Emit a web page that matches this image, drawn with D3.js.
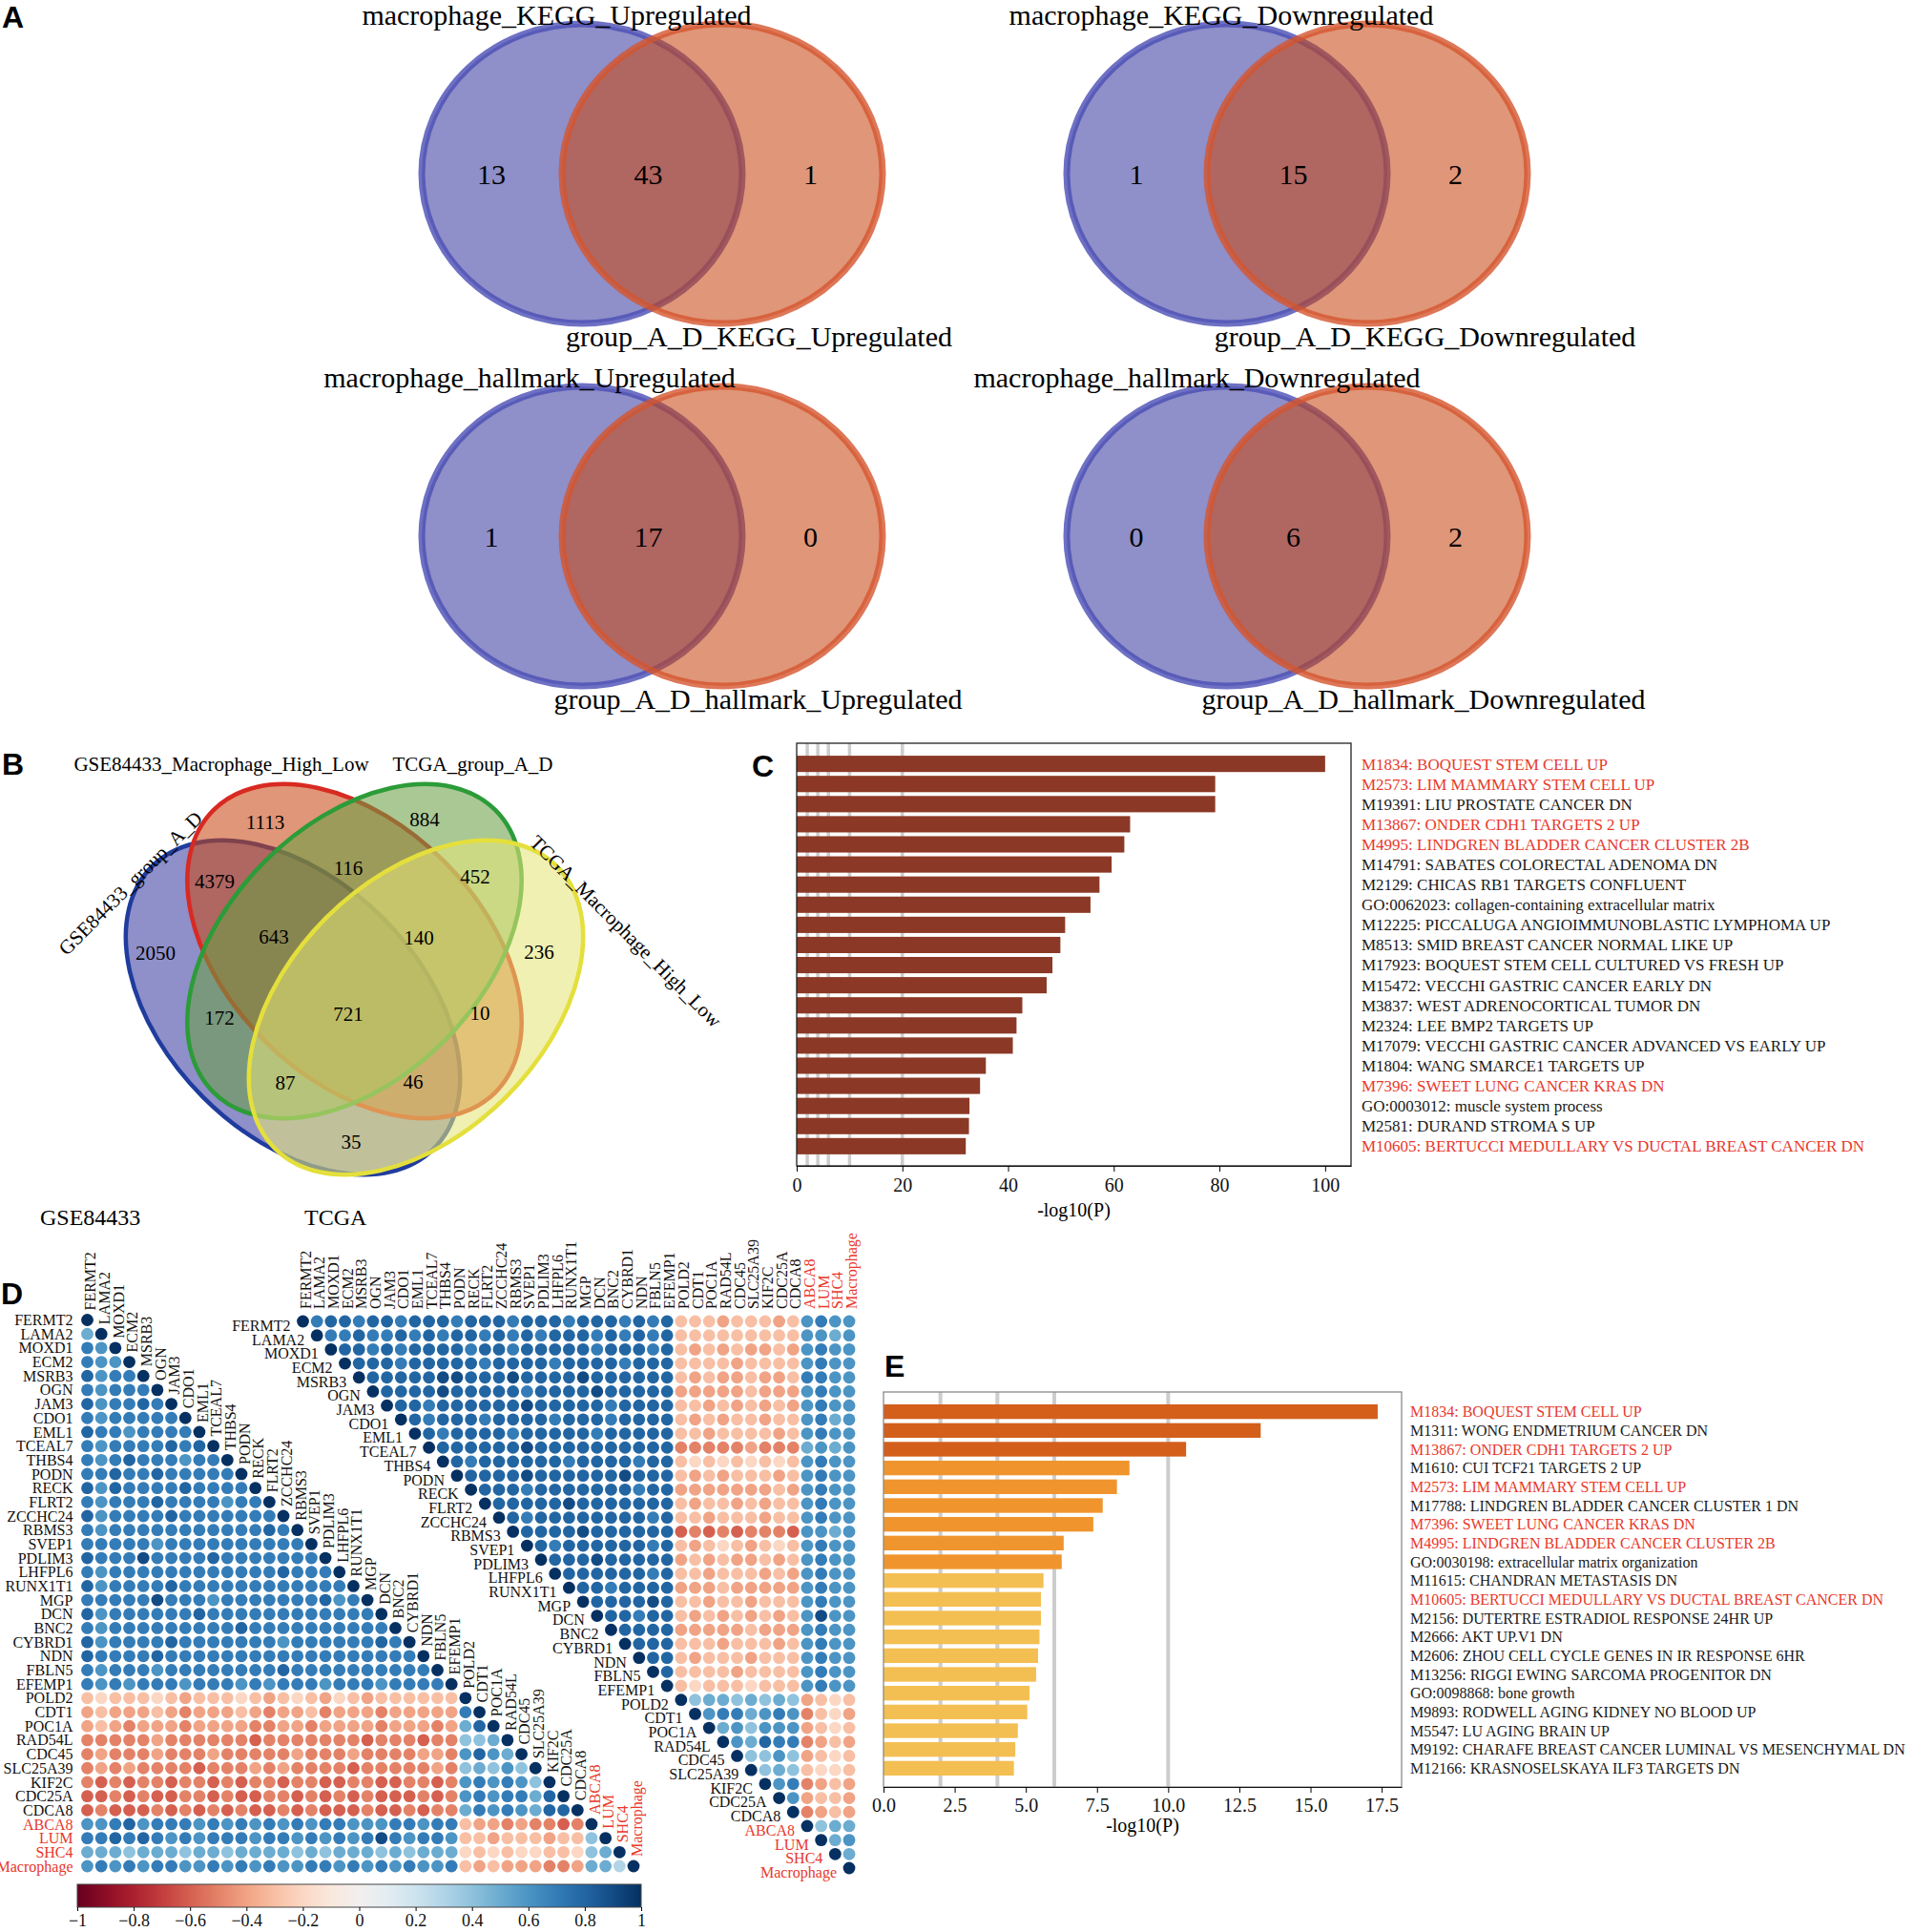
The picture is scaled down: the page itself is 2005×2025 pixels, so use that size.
<!DOCTYPE html>
<html>
<head>
<meta charset="utf-8">
<script src="https://cdn.jsdelivr.net/npm/d3@7"></script>
<style>
  body { margin: 0; background: white; }
  svg { display: block; }
</style>
</head>
<body>
<div id="vis"></div>
<script>
let W = 2005, H = 2025
let serif = "'Liberation Serif', 'Times New Roman', serif"
let sans = "'Liberation Sans', Arial, sans-serif"
let red = '#e8382b'

// ---------- data ----------
// A: two-set venns
let vennTop = ['macrophage_KEGG_Upregulated', 'macrophage_KEGG_Downregulated', 'macrophage_hallmark_Upregulated', 'macrophage_hallmark_Downregulated']
let vennBottom = ['group_A_D_KEGG_Upregulated', 'group_A_D_KEGG_Downregulated', 'group_A_D_hallmark_Upregulated', 'group_A_D_hallmark_Downregulated']
let vennCounts = [[13, 43, 1], [1, 15, 2], [1, 17, 0], [0, 6, 2]]

// B: four-set venn
let quadSets = ['GSE84433_group_A_D', 'GSE84433_Macrophage_High_Low', 'TCGA_group_A_D', 'TCGA_Macrophage_High_Low']
let quadRegions = ['A', 'B', 'C', 'D', 'AB', 'BC', 'CD', 'ABC', 'BCD', 'AC', 'ABCD', 'BD', 'ACD', 'ABD', 'AD']
let quadCounts = [2050, 1113, 884, 236, 4379, 116, 452, 643, 140, 172, 721, 10, 87, 46, 35]

// C: enrichment
let cTerms = ['M1834: BOQUEST STEM CELL UP', 'M2573: LIM MAMMARY STEM CELL UP', 'M19391: LIU PROSTATE CANCER DN',
  'M13867: ONDER CDH1 TARGETS 2 UP', 'M4995: LINDGREN BLADDER CANCER CLUSTER 2B', 'M14791: SABATES COLORECTAL ADENOMA DN',
  'M2129: CHICAS RB1 TARGETS CONFLUENT', 'GO:0062023: collagen-containing extracellular matrix',
  'M12225: PICCALUGA ANGIOIMMUNOBLASTIC LYMPHOMA UP', 'M8513: SMID BREAST CANCER NORMAL LIKE UP',
  'M17923: BOQUEST STEM CELL CULTURED VS FRESH UP', 'M15472: VECCHI GASTRIC CANCER EARLY DN',
  'M3837: WEST ADRENOCORTICAL TUMOR DN', 'M2324: LEE BMP2 TARGETS UP', 'M17079: VECCHI GASTRIC CANCER ADVANCED VS EARLY UP',
  'M1804: WANG SMARCE1 TARGETS UP', 'M7396: SWEET LUNG CANCER KRAS DN', 'GO:0003012: muscle system process',
  'M2581: DURAND STROMA S UP', 'M10605: BERTUCCI MEDULLARY VS DUCTAL BREAST CANCER DN']
let cValues = [100.0, 79.2, 79.2, 63.1, 62.0, 59.6, 57.3, 55.6, 50.8, 49.9, 48.4, 47.3, 42.7, 41.6, 40.9, 35.8, 34.7, 32.7, 32.6, 32.0]
let cTicks = [0, 20, 40, 60, 80, 100]
let cGrid = [2, 4, 6, 10, 20]

// E: enrichment
let eTerms = ['M1834: BOQUEST STEM CELL UP', 'M1311: WONG ENDMETRIUM CANCER DN', 'M13867: ONDER CDH1 TARGETS 2 UP',
  'M1610: CUI TCF21 TARGETS 2 UP', 'M2573: LIM MAMMARY STEM CELL UP', 'M17788: LINDGREN BLADDER CANCER CLUSTER 1 DN',
  'M7396: SWEET LUNG CANCER KRAS DN', 'M4995: LINDGREN BLADDER CANCER CLUSTER 2B', 'GO:0030198: extracellular matrix organization',
  'M11615: CHANDRAN METASTASIS DN', 'M10605: BERTUCCI MEDULLARY VS DUCTAL BREAST CANCER DN', 'M2156: DUTERTRE ESTRADIOL RESPONSE 24HR UP',
  'M2666: AKT UP.V1 DN', 'M2606: ZHOU CELL CYCLE GENES IN IR RESPONSE 6HR', 'M13256: RIGGI EWING SARCOMA PROGENITOR DN',
  'GO:0098868: bone growth', 'M9893: RODWELL AGING KIDNEY NO BLOOD UP', 'M5547: LU AGING BRAIN UP',
  'M9192: CHARAFE BREAST CANCER LUMINAL VS MESENCHYMAL DN', 'M12166: KRASNOSELSKAYA ILF3 TARGETS DN']
let eValues = [17.36, 13.25, 10.63, 8.64, 8.20, 7.70, 7.37, 6.33, 6.26, 5.62, 5.53, 5.53, 5.48, 5.43, 5.36, 5.13, 5.05, 4.72, 4.63, 4.58]
let eTicks = [0, 2.5, 5, 7.5, 10, 12.5, 15, 17.5]
let eGrid = [2, 4, 6, 10]
let sharedIds = ['M1834', 'M2573', 'M13867', 'M4995', 'M7396', 'M10605']

// D: correlation matrices. one char per cell: 0-9 -> +0.0..+0.9, X -> 1, a-i -> -0.1..-0.9
let genes = ['FERMT2', 'LAMA2', 'MOXD1', 'ECM2', 'MSRB3', 'OGN', 'JAM3', 'CDO1', 'EML1', 'TCEAL7', 'THBS4', 'PODN',
  'RECK', 'FLRT2', 'ZCCHC24', 'RBMS3', 'SVEP1', 'PDLIM3', 'LHFPL6', 'RUNX1T1', 'MGP', 'DCN', 'BNC2', 'CYBRD1', 'NDN',
  'FBLN5', 'EFEMP1', 'POLD2', 'CDT1', 'POC1A', 'RAD54L', 'CDC45', 'SLC25A39', 'KIF2C', 'CDC25A', 'CDCA8',
  'ABCA8', 'LUM', 'SHC4', 'Macrophage']
let redGenes = ['ABCA8', 'LUM', 'SHC4', 'Macrophage']
// GSE84433, lower triangle, row i = columns 0..i
let gseRows = [
  'X', '5X', '76X', '766X', '8677X', '76777X', '867787X', '7677777X', '87767777X', '767777878X',
  '7678777677X', '77877877777X', '868777787777X', '7677787777677X', '86777787777777X', '767777777777787X',
  '7777767777777777X', '87779777787777777X', '767777777777778777X', '8677778777777777777X',
  '77777977767777777867X', '867777778777777777777X', '7677777777787777777777X', '86777787777777677777787X',
  '877778777777777777777777X', '7677767777777787777777777X', '76767776777676777677767777X',
  'cbcccbcdcccbcdcbcdbcdcccccc' + 'X',
  'dcdddcdedddcdeddcedddeddddd' + '7' + 'X',
  'dcdedddeddddeeddeddddeddded' + '58' + 'X',
  'eeeeedeeeeeefeeeeeeefeeefee' + '445' + 'X',
  'edeeedeeedeeeeedeeedeeeedde' + '6865' + 'X',
  'ededeeeefeeededeeeefeeeeede' + '45464' + 'X',
  'efefeefeefefeefeeffeeffeefe' + '676764' + 'X',
  'ffefeffeefeffeefefefefffefe' + '6767758' + 'X',
  'fefffefefefeffefefffeffefee' + '57676588' + 'X',
  '667867776767676767766677677' + 'cddedeefe' + 'X',
  '778787676777677676767' + '9' + '76776' + 'ccdcccdcc' + '4' + 'X',
  '555455545545555454555454555' + 'bcbcbbccb' + '45' + 'X',
  '676767766767676677676767667' + 'cdcdddeed' + '553' + 'X'
]
// TCGA, upper triangle, row i = columns i..39
let tcgaRows = [
  'X' + '78878878887888788878887878' + 'cccdcccdc' + '6766',
  'X' + '7787787878878787888787878' + 'ccccccccc' + '6656',
  'X' + '887878888788788888788878' + 'cdcdcddcd' + '6766',
  'X' + '88878888878888788887888' + 'ccccdcccc' + '6766',
  'X' + '8888899888988889888888' + 'cdcddcddc' + '7766',
  'X' + '888898888878888988888' + 'dddddcddd' + '6766',
  'X' + '88788888898888878888' + 'ccdcdcdcd' + '6766',
  'X' + '8788878888788878888' + 'cdcdccdcc' + '6756',
  'X' + '878888788888788888' + 'ccdccccdc' + '6766',
  'X' + '88888898888888888' + 'eeeeedeee' + '5656',
  'X' + '8788888878888788' + 'cbcbcbcbc' + '6766',
  'X' + '888898888889888' + 'cdcdcccdc' + '6766',
  'X' + '88878888888788' + 'dddddddcd' + '6766',
  'X' + '8888898888888' + 'cdccdcdcc' + '6766',
  'X' + '878888888878' + 'ccdcccdcc' + '6766',
  'X' + '88889888888' + 'fefefeeef' + '6656',
  'X' + '8788888878' + 'cdcbcdcbc' + '6766',
  'X' + '888988888' + 'dcdcddcdc' + '6766',
  'X' + '88888878' + 'ccdcccdcd' + '6766',
  'X' + '8878888' + 'dddcddddd' + '6766',
  'X' + '888898' + 'ccdccdccc' + '6766',
  'X' + '88788' + 'cdcdcdcdc' + '6966',
  'X' + '8888' + 'dddddcddd' + '6766',
  'X' + '888' + 'cccdcccdc' + '6766',
  'X' + '88' + 'cdcccdccc' + '6766',
  'X' + '8' + 'ccccdcccc' + '6766',
  'X' + 'cbcccbccc' + '6766',
  'X' + '45545454' + 'dcbc',
  'X' + '6775676' + 'ecbd',
  'X' + '564666' + 'dcbc',
  'X' + '65877' + 'edcd',
  'X' + '4464' + 'dcbc',
  'X' + '454' + 'cbbc',
  'X' + '67' + 'edcd',
  'X' + '6' + 'dccd',
  'X' + 'edcd',
  'X455', 'X56', 'X5', 'X'
]
let cbTicks = d3.ticks(-1, 1, 10)

// ---------- svg ----------
let svg = d3.select('#vis').append('svg')
  .attr('width', W).attr('height', H)
  .style('background-color', 'white')
  .style('font-family', serif)

// panel letters
let letters = [['A', 2, 29], ['B', 2, 812], ['C', 788, 814], ['D', 1, 1367], ['E', 927, 1443]]
svg.selectAll('text.letter').data(letters).join('text')
  .attr('class', 'letter')
  .attr('x', d => d[1]).attr('y', d => d[2])
  .style('font-family', sans).style('font-weight', 'bold').style('font-size', '32px')
  .text(d => d[0])

// ---------- A ----------
let vennPos = [{cx: 683.5, cy: 182}, {cx: 1359.5, cy: 182}, {cx: 683.5, cy: 562}, {cx: 1359.5, cy: 562}]
let topShift = [-100, -79.5, -128.5, -105]
let botShift = [112, 134, 111, 132.5]
let pairFill = ['#3a3aa0', '#c84712']
let pairStroke = ['#4a4eb4', '#d4552e']
let vx = d3.scaleLinear().domain([-1, 1]).range([-73.5, 73.5])
let labelX = d3.scaleLinear().domain([0, 1, 2]).range([-168.5, -4, 166])

vennPos.forEach((v, i) => {
  let g = svg.append('g').attr('transform', `translate(${v.cx},${v.cy})`)
  g.selectAll('ellipse').data([-1, 1]).join('ellipse')
    .attr('cx', d => vx(d)).attr('cy', 0)
    .attr('rx', 168).attr('ry', 157)
    .attr('fill', (d, k) => pairFill[k]).attr('fill-opacity', 0.57)
    .attr('stroke', (d, k) => pairStroke[k]).attr('stroke-opacity', 0.8).attr('stroke-width', 7)
  g.selectAll('text.cnt').data(vennCounts[i]).join('text')
    .attr('class', 'cnt')
    .attr('x', (d, k) => labelX(k)).attr('y', 0).attr('dy', '0.35em')
    .attr('text-anchor', 'middle').style('font-size', '30px')
    .text(d => d)
  g.append('text').attr('x', topShift[i]).attr('y', -156)
    .attr('text-anchor', 'middle').style('font-size', '30px').text(vennTop[i])
  g.append('text').attr('x', botShift[i]).attr('y', 181)
    .attr('text-anchor', 'middle').style('font-size', '30px').text(vennBottom[i])
})

// ---------- B ----------
let qx = d3.scaleLinear().domain([-1, 1]).range([371.5 - 100, 371.5 + 100])
let qy = d3.scaleLinear().domain([-1, 1]).range([997 - 100, 997 + 100])
let quadShapes = [
  {x: -0.645, y: 0.59, rot: 45, fill: '#3a3aa0', stroke: '#1f3c9e'},
  {x: 0, y: 0, rot: 45, fill: '#c84712', stroke: '#d82a22'},
  {x: 0, y: 0, rot: -45, fill: '#6a9e43', stroke: '#2c9c38'},
  {x: 0.645, y: 0.59, rot: -45, fill: '#e4e478', stroke: '#e4df3c'}
]
let quadPos = {
  A: [-2.085, 0.02], B: [-0.935, -1.35], C: [0.735, -1.38], D: [1.935, 0.01],
  AB: [-1.465, -0.73], BC: [-0.065, -0.87], CD: [1.265, -0.78],
  ABC: [-0.845, -0.15], BCD: [0.675, -0.14], AC: [-1.415, 0.70], ABCD: [-0.065, 0.66],
  BD: [1.315, 0.65], ACD: [-0.725, 1.38], ABD: [0.615, 1.37], AD: [-0.035, 2.0]
}
let qb = svg.append('g')
quadShapes.forEach(s => {
  qb.append('ellipse')
    .attr('transform', `translate(${qx(s.x)},${qy(s.y)}) rotate(${s.rot})`)
    .attr('rx', 209).attr('ry', 133)
    .attr('fill', s.fill).attr('fill-opacity', 0.57)
    .attr('stroke', s.stroke).attr('stroke-width', 4.5)
})
qb.selectAll('text.qc').data(quadRegions).join('text')
  .attr('class', 'qc')
  .attr('x', d => qx(quadPos[d][0])).attr('y', d => qy(quadPos[d][1])).attr('dy', '0.35em')
  .attr('text-anchor', 'middle').style('font-size', '21px')
  .text((d, i) => quadCounts[i])
qb.append('text').attr('x', 232).attr('y', 808).attr('text-anchor', 'middle').style('font-size', '21px').text(quadSets[1])
qb.append('text').attr('x', 495.5).attr('y', 808).attr('text-anchor', 'middle').style('font-size', '21px').text(quadSets[2])
qb.append('text').attr('transform', 'translate(136.5,925.5) rotate(-45)').attr('dy', '0.35em')
  .attr('text-anchor', 'middle').style('font-size', '21px').text(quadSets[0])
qb.append('text').attr('transform', 'translate(656,976) rotate(45)').attr('dy', '0.35em')
  .attr('text-anchor', 'middle').style('font-size', '21px').text(quadSets[3])

// ---------- C and E ----------
function barPanel(o) {
  let x = d3.scaleLinear().domain(o.domain).range([o.left, o.right])
  let y = d3.scaleBand().domain(o.terms).range(o.band).paddingInner(o.padIn).paddingOuter(0.1)
  let g = svg.append('g')
  g.selectAll('line.grid').data(o.grid).join('line')
    .attr('x1', d => x(d)).attr('x2', d => x(d))
    .attr('y1', o.top).attr('y2', o.bottom)
    .attr('stroke', '#cdcdcd').attr('stroke-width', o.gridW)
  g.selectAll('rect.bar').data(o.terms).join('rect')
    .attr('x', x(0)).attr('y', d => y(d))
    .attr('width', (d, i) => x(o.values[i]) - x(0))
    .attr('height', y.bandwidth())
    .attr('fill', (d, i) => o.color(o.values[i]))
  g.append('rect')
    .attr('x', o.left).attr('y', o.top)
    .attr('width', o.right - o.left).attr('height', o.bottom - o.top)
    .attr('fill', 'none').attr('stroke', o.frame).attr('stroke-width', 1.3)
  let ax = g.append('g').attr('transform', `translate(0,${o.bottom})`)
    .call(d3.axisBottom(x).tickValues(o.ticks).tickSize(6).tickSizeOuter(0).tickPadding(o.tickPad).tickFormat(o.fmt))
  ax.selectAll('text').style('font-family', serif).style('font-size', '20px').attr('fill', '#111')
  ax.select('.domain').attr('stroke', '#111')
  g.append('text').attr('x', (o.left + o.right) / 2).attr('y', o.titleY)
    .attr('text-anchor', 'middle').style('font-size', '20px').text('-log10(P)')
  g.selectAll('text.term').data(o.terms).join('text')
    .attr('class', 'term')
    .attr('x', o.labelX).attr('y', d => y(d) + y.bandwidth() / 2).attr('dy', '0.35em')
    .style('font-size', o.labelSize)
    .attr('fill', d => sharedIds.includes(d.split(':')[0]) ? red : '#1a1a1a')
    .text(d => d)
}

barPanel({
  terms: cTerms, values: cValues, domain: [0, 104.9], left: 835, right: 1416, top: 779, bottom: 1222,
  band: [790, 1212], padIn: 0.19, grid: cGrid, gridW: 3.5, ticks: cTicks, fmt: d3.format('d'),
  color: () => '#8b3926', frame: '#222', tickPad: 7, titleY: 1275, labelX: 1427, labelSize: '17px'
})
barPanel({
  terms: eTerms, values: eValues, domain: [0, 18.2], left: 926, right: 1469, top: 1459, bottom: 1873,
  band: [1470, 1863], padIn: 0.22, grid: eGrid, gridW: 4, ticks: eTicks, fmt: d3.format('.1f'),
  color: d3.scaleThreshold().domain([6, 10]).range(['#f4bf52', '#f0952e', '#d35f1b']),
  frame: '#8a8a8a', tickPad: 6, titleY: 1920, labelX: 1478, labelSize: '16px'
})

// ---------- D ----------
function corr(ch) {
  if (ch === 'X') return 1
  if (ch >= '0' && ch <= '9') return +ch / 10
  return -(ch.charCodeAt(0) - 96) / 10
}
let col = v => d3.interpolateRdBu((v + 1) / 2)
let geneColor = g => redGenes.includes(g) ? red : '#111'

// GSE84433 (lower)
let gx = d3.scalePoint().domain(genes).range([91.5, 664])
let gy = d3.scalePoint().domain(genes).range([1383.5, 1956])
let gseCells = gseRows.flatMap((r, i) => r.split('').map((ch, j) => ({row: genes[i], col: genes[j], v: corr(ch)})))
let gd = svg.append('g')
gd.selectAll('circle').data(gseCells).join('circle')
  .attr('cx', d => gx(d.col)).attr('cy', d => gy(d.row)).attr('r', 6.4)
  .attr('fill', d => col(d.v))
gd.selectAll('text.rl').data(genes).join('text')
  .attr('class', 'rl')
  .attr('x', gx(genes[0]) - 15).attr('y', d => gy(d)).attr('dy', '0.35em')
  .attr('text-anchor', 'end').style('font-size', '16px')
  .attr('fill', geneColor).text(d => d)
gd.selectAll('text.cl').data(genes).join('text')
  .attr('class', 'cl')
  .attr('transform', d => `translate(${gx(d)},${gy(d) - 10}) rotate(-90)`)
  .attr('dy', '0.55em').style('font-size', '16px')
  .attr('fill', geneColor).text(d => d)

// TCGA (upper)
let tx = d3.scalePoint().domain(genes).range([317.5, 890])
let ty = d3.scalePoint().domain(genes).range([1385, 1958])
let tcgaCells = tcgaRows.flatMap((r, i) => r.split('').map((ch, k) => ({row: genes[i], col: genes[i + k], v: corr(ch)})))
let td = svg.append('g')
td.selectAll('circle').data(tcgaCells).join('circle')
  .attr('cx', d => tx(d.col)).attr('cy', d => ty(d.row)).attr('r', 6.4)
  .attr('fill', d => col(d.v))
td.selectAll('text.rl').data(genes).join('text')
  .attr('class', 'rl')
  .attr('x', d => tx(d) - 13).attr('y', d => ty(d)).attr('dy', '0.62em')
  .attr('text-anchor', 'end').style('font-size', '16px')
  .attr('fill', geneColor).text(d => d)
td.selectAll('text.cl').data(genes).join('text')
  .attr('class', 'cl')
  .attr('transform', d => `translate(${tx(d)},${ty(genes[0]) - 13}) rotate(-90)`)
  .attr('dy', '0.5em').style('font-size', '16px')
  .attr('fill', geneColor).text(d => d)

svg.append('text').attr('x', 42).attr('y', 1284).style('font-size', '24px').text('GSE84433')
svg.append('text').attr('x', 319).attr('y', 1284).style('font-size', '24px').text('TCGA')

// colour bar
let cbx = d3.scaleLinear().domain([-1, 1]).range([81, 672])
let grad = svg.append('defs').append('linearGradient').attr('id', 'rdbu')
grad.selectAll('stop').data(d3.range(0, 1.0001, 0.05)).join('stop')
  .attr('offset', d => d).attr('stop-color', d => d3.interpolateRdBu(d))
svg.append('rect').attr('x', cbx(-1)).attr('y', 1975).attr('width', cbx(1) - cbx(-1)).attr('height', 24)
  .attr('fill', 'url(#rdbu)').attr('stroke', '#444').attr('stroke-width', 1)
let cbAxis = svg.append('g').attr('transform', 'translate(0,1999)')
  .call(d3.axisBottom(cbx).tickValues(cbTicks).tickSize(4).tickSizeOuter(0).tickPadding(3).tickFormat(d3.format('~g')))
cbAxis.select('.domain').remove()
cbAxis.selectAll('text').style('font-family', serif).style('font-size', '18px').attr('fill', '#111')
</script>
</body>
</html>
